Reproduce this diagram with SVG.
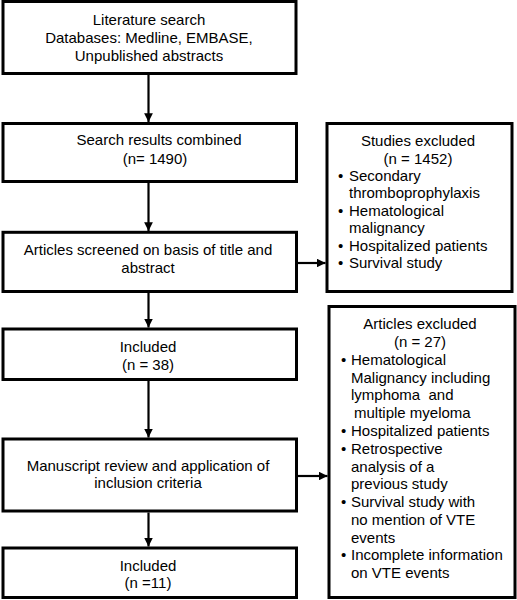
<svg xmlns="http://www.w3.org/2000/svg" width="517" height="600" viewBox="0 0 517 600">
<style>
rect.b{fill:#fff;stroke:#000;stroke-width:3}
text{font-family:"Liberation Sans",Arial,sans-serif;font-size:15px;fill:#000}
.c{text-anchor:middle}
.e line{stroke:#000;stroke-width:2.2}
</style>
<defs>
<marker id="ah" viewBox="0 0 10 10" refX="10" refY="5" markerWidth="4" markerHeight="4" orient="auto" markerUnits="strokeWidth">
<path d="M0,0 L10,5 L0,10 z" fill="#000"/>
</marker>
</defs>
<g id="connectors" class="e">
<line x1="148.5" y1="74" x2="148.5" y2="122" marker-end="url(#ah)"/>
<line x1="148.5" y1="183" x2="148.5" y2="231" marker-end="url(#ah)"/>
<line x1="148.5" y1="293" x2="148.5" y2="327.5" marker-end="url(#ah)"/>
<line x1="148.5" y1="381" x2="148.5" y2="437.5" marker-end="url(#ah)"/>
<line x1="148.5" y1="512.5" x2="148.5" y2="546.5" marker-end="url(#ah)"/>
<line x1="297.5" y1="263" x2="325.5" y2="263" marker-end="url(#ah)"/>
<line x1="297.5" y1="476" x2="327.5" y2="476" marker-end="url(#ah)"/>
</g>
<g id="n1">
<rect class="b" x="3" y="1.5" width="293" height="72"/>
<text class="c" x="149" y="25">Literature search</text>
<text class="c" x="149" y="43">Databases: Medline, EMBASE,</text>
<text class="c" x="149" y="61">Unpublished abstracts</text>
</g>
<g id="n2">
<rect class="b" x="3" y="123.5" width="293.5" height="58"/>
<text class="c" x="159" y="145">Search results combined</text>
<text class="c" x="155" y="164">(n= 1490)</text>
</g>
<g id="n3">
<rect class="b" x="3" y="232.3" width="293.5" height="59.2"/>
<text class="c" x="148" y="255">Articles screened on basis of title and</text>
<text class="c" x="148" y="273">abstract</text>
</g>
<g id="n4">
<rect class="b" x="3" y="329" width="293.5" height="50.5"/>
<text class="c" x="148" y="352">Included</text>
<text class="c" x="148" y="370">(n = 38)</text>
</g>
<g id="n5">
<rect class="b" x="3" y="439" width="293.5" height="72"/>
<text class="c" x="148" y="471">Manuscript review and application of</text>
<text class="c" x="148" y="488">inclusion criteria</text>
</g>
<g id="n6">
<rect class="b" x="3" y="548" width="293.5" height="49.5"/>
<text class="c" x="148" y="571">Included</text>
<text class="c" x="148" y="588">(n =11)</text>
</g>
<g id="r1">
<rect class="b" x="327" y="123.5" width="185" height="168"/>
<text class="c" x="418" y="146">Studies excluded</text>
<text class="c" x="418" y="164">(n = 1452)</text>
<text x="338" y="181">•</text><text x="349" y="181">Secondary</text>
<text x="349" y="198">thromboprophylaxis</text>
<text x="338" y="216">•</text><text x="349" y="216">Hematological</text>
<text x="349" y="233">malignancy</text>
<text x="338" y="251">•</text><text x="349" y="251">Hospitalized patients</text>
<text x="338" y="268">•</text><text x="349" y="268">Survival study</text>
</g>
<g id="r2">
<rect class="b" x="329" y="306.5" width="186" height="291"/>
<text class="c" x="420" y="329">Articles excluded</text>
<text class="c" x="420" y="347">(n = 27)</text>
<text x="341" y="365">•</text><text x="351" y="365">Hematological</text>
<text x="351" y="383">Malignancy including</text>
<text x="351" y="400">lymphoma&#160; and</text>
<text x="354" y="418">multiple myeloma</text>
<text x="341" y="436">•</text><text x="351" y="436">Hospitalized patients</text>
<text x="341" y="454">•</text><text x="351" y="454">Retrospective</text>
<text x="351" y="472">analysis of a</text>
<text x="351" y="489">previous study</text>
<text x="341" y="507">•</text><text x="351" y="507">Survival study with</text>
<text x="351" y="525">no mention of VTE</text>
<text x="351" y="543">events</text>
<text x="341" y="560">•</text><text x="351" y="560">Incomplete information</text>
<text x="351" y="578">on VTE events</text>
</g>
</svg>
